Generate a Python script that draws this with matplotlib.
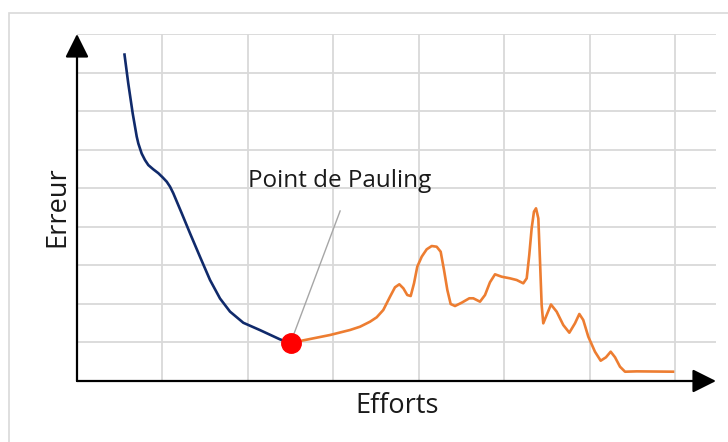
import numpy as np
import matplotlib
matplotlib.use('Agg')
import matplotlib.pyplot as plt
import matplotlib.patches as patches

# values (x = effort, y = error, one grid unit each)
blue_x = [0.554, 0.600, 0.652, 0.699, 0.718, 0.757, 0.796, 0.835, 0.893, 0.952, 1.003,
          1.050, 1.089, 1.127, 1.226, 1.323, 1.440, 1.557, 1.674, 1.791, 1.947, 2.142,
          2.376, 2.493]
blue_y = [8.50, 7.72, 6.94, 6.34, 6.16, 5.90, 5.73, 5.60, 5.49, 5.39, 5.28,
          5.17, 5.04, 4.87, 4.35, 3.83, 3.22, 2.62, 2.14, 1.80, 1.51, 1.32,
          1.08, 0.99]

orange_x = [2.505, 2.610, 2.786, 2.962, 3.196, 3.313, 3.430, 3.508, 3.585, 3.664, 3.722,
            3.773, 3.820, 3.866, 3.906, 3.945, 3.983, 4.035, 4.093, 4.152, 4.210, 4.257,
            4.296, 4.335, 4.374, 4.425, 4.503, 4.592, 4.639, 4.717, 4.776, 4.834, 4.893,
            4.971, 5.068, 5.147, 5.224, 5.264, 5.294, 5.322, 5.349, 5.373, 5.400, 5.420,
            5.439, 5.458, 5.493, 5.548, 5.615, 5.692, 5.763, 5.829, 5.880, 5.926, 5.985,
            6.063, 6.130, 6.192, 6.247, 6.298, 6.356, 6.415, 6.552, 6.992]
orange_y = [0.985, 1.037, 1.115, 1.193, 1.323, 1.408, 1.538, 1.652, 1.841, 2.186, 2.430,
            2.508, 2.404, 2.230, 2.204, 2.534, 2.964, 3.224, 3.415, 3.501, 3.483, 3.353,
            2.879, 2.360, 1.997, 1.945, 2.031, 2.145, 2.145, 2.057, 2.230, 2.560, 2.767,
            2.705, 2.663, 2.619, 2.534, 2.663, 3.268, 3.960, 4.391, 4.479, 4.219, 3.094,
            1.971, 1.496, 1.686, 1.984, 1.797, 1.452, 1.253, 1.496, 1.738, 1.582, 1.149,
            0.760, 0.526, 0.615, 0.760, 0.615, 0.371, 0.241, 0.250, 0.241]

pauling_x = 2.50
pauling_y = 0.99
label_text = 'Point de Pauling'
xlabel = 'Efforts'
ylabel = 'Erreur'

plt.rcParams['font.family'] = ['Open Sans', 'DejaVu Sans']

fig = plt.figure(figsize=(7.28, 4.42), dpi=100)
fig.patches.append(patches.Rectangle((8.5/728, -0.1), 1.2, (442-12.5)/442 + 0.1,
                                     transform=fig.transFigure, fill=False,
                                     edgecolor='#d9d9d9', lw=1.2))

ax = fig.add_axes([77/728, 61/442, 639/728, 347/442])
ax.set_xlim(0, 639/85.43)
ax.set_ylim(0, 9)
for s in ax.spines.values():
    s.set_visible(False)
ax.set_xticks(np.arange(1, 8))
ax.set_yticks(np.arange(1, 10))
ax.tick_params(length=0, labelbottom=False, labelleft=False)
ax.grid(True, color='#d9d9d9', lw=1.3)
ax.set_axisbelow(True)

# axes with arrows
ax.annotate('', xy=(0, 9), xytext=(0, 0), annotation_clip=False,
            arrowprops=dict(arrowstyle='-|>,head_length=1.44,head_width=0.72',
                            color='black', lw=1.6, shrinkA=0, shrinkB=0))
ax.annotate('', xy=(639/85.43, 0), xytext=(0, 0), annotation_clip=False,
            arrowprops=dict(arrowstyle='-|>,head_length=1.44,head_width=0.72',
                            color='black', lw=1.6, shrinkA=0, shrinkB=0))

ax.plot(blue_x, blue_y, color='#102a6b', lw=1.9, solid_joinstyle='round', solid_capstyle='butt')
ax.plot(orange_x, orange_y, color='#ed7d31', lw=1.9, solid_joinstyle='round', solid_capstyle='butt')

ax.plot([pauling_x, 3.08], [pauling_y, 4.41], color='#a6a6a6', lw=1.0)
ax.plot(pauling_x, pauling_y, 'o', color='#ff0000', ms=14, zorder=5)
ax.text(2.0, 5.03, label_text, fontsize=17.5, ha='left', va='baseline', color='#1a1a1a')

ax.text(3.75, -0.66, xlabel, fontsize=19.5, ha='center', va='center', color='#1a1a1a')
ax.text(-0.234, 4.51, ylabel, fontsize=19.5, ha='center', va='center', rotation=90, color='#1a1a1a')

plt.savefig('out.png', dpi=100)
